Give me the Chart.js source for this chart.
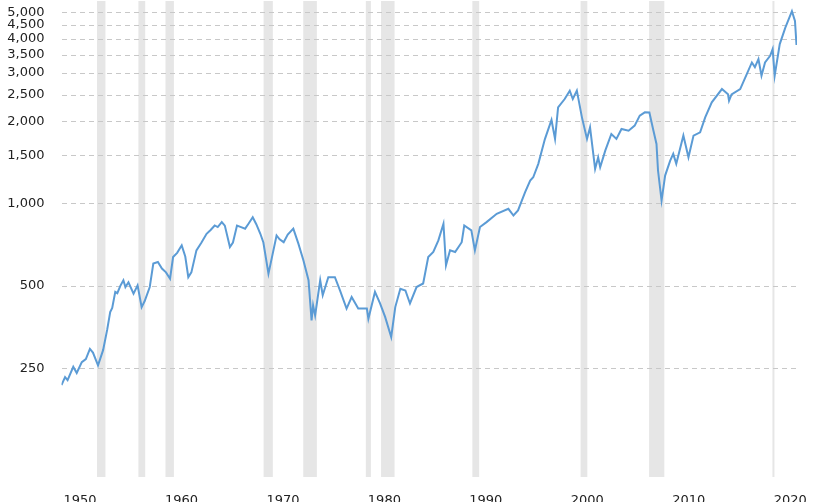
<!DOCTYPE html>
<html>
<head>
<meta charset="utf-8">
<script src="https://cdn.jsdelivr.net/npm/chart.js@4"></script>
<style>
  html, body { margin: 0; padding: 0; background: #fff; }
  #wrap { width: 815px; height: 502px; }
</style>
</head>
<body>
<div id="wrap"><canvas id="chart" width="815" height="502"></canvas></div>
<script>
// years (decimal) and index values
const years = [
    1950.0, 1950.35, 1950.6, 1951.16, 1951.5, 1952.0, 1952.4, 1952.8, 1953.1, 1953.6,
    1954.1, 1954.5, 1954.8, 1955.0, 1955.3, 1955.5, 1955.8, 1956.1, 1956.3, 1956.6,
    1957.1, 1957.5, 1957.9, 1958.2, 1958.7, 1959.05, 1959.5, 1959.9, 1960.3, 1960.7,
    1961.0, 1961.4, 1961.85, 1962.2, 1962.5, 1962.8, 1963.3, 1963.8, 1964.3, 1964.7,
    1965.1, 1965.4, 1965.8, 1966.1, 1966.6, 1966.9, 1967.3, 1967.7, 1968.1, 1968.4,
    1968.85, 1969.2, 1969.6, 1969.9, 1970.4, 1970.8, 1971.2, 1971.5, 1971.9, 1972.3,
    1972.85, 1973.35, 1973.85, 1974.35, 1974.65, 1974.8, 1975.0, 1975.5, 1975.75, 1976.3,
    1976.95, 1977.45, 1978.1, 1978.6, 1979.25, 1980.1, 1980.25, 1980.9, 1981.4, 1981.9,
    1982.5, 1982.9, 1983.4, 1983.9, 1984.35, 1985.0, 1985.65, 1986.15, 1986.65, 1987.15,
    1987.65, 1987.9, 1988.3, 1988.8, 1989.45, 1989.7, 1990.4, 1990.75, 1991.25, 1991.9,
    1992.9, 1994.05, 1994.55, 1995.0, 1995.7, 1996.2, 1996.5, 1997.0, 1997.65, 1998.3,
    1998.65, 1998.95, 1999.6, 2000.1, 2000.4, 2000.8, 2001.3, 2001.8, 2002.1, 2002.6,
    2002.9, 2003.1, 2003.6, 2004.2, 2004.7, 2005.2, 2005.9, 2006.5, 2007.0, 2007.5,
    2007.95, 2008.35, 2008.65, 2008.8, 2009.15, 2009.5, 2010.0, 2010.3, 2010.6, 2011.3,
    2011.8, 2012.3, 2012.95, 2013.45, 2014.1, 2015.1, 2015.7, 2015.8, 2016.05, 2016.9,
    2017.55, 2018.05, 2018.35, 2018.7, 2019.0, 2019.35, 2019.85, 2020.1, 2020.3, 2020.8,
    2021.35, 2022.0, 2022.3, 2022.45, 2022.5
];
const values = [
    217, 232, 226, 253, 240, 263, 270, 294, 285, 256,
    291, 345, 401, 415, 475, 470, 500, 524, 495, 515,
    468, 502, 418, 440, 495, 603, 611, 578, 560, 531,
    637, 660, 703, 640, 538, 560, 674, 720, 775, 800,
    831, 820, 855, 830, 693, 720, 831, 820, 809, 840,
    891, 840, 775, 720, 554, 650, 764, 740, 722, 770,
    809, 713, 619, 524, 374, 424, 390, 524, 462, 538,
    538, 481, 413, 455, 413, 413, 379, 475, 431, 385,
    325, 418, 488, 481, 431, 495, 510, 637, 665, 733,
    843, 594, 674, 665, 722, 831, 797, 674, 820, 855,
    917, 956, 904, 943, 1100, 1213, 1247, 1396, 1720, 2020,
    1722, 2246, 2410, 2585, 2410, 2585, 2065, 1722, 1898, 1338,
    1475, 1357, 1561, 1796, 1722, 1873, 1846, 1926, 2095, 2154,
    2150, 1846, 1651, 1320, 1025, 1265, 1435, 1518, 1396, 1771,
    1475, 1771, 1820, 2065, 2343, 2621, 2507, 2375, 2507, 2621,
    2973, 3278, 3152, 3373, 2932, 3278, 3468, 3669, 2932, 3826,
    4398, 5050, 4654, 3800, 4000
];

// recessions (start / end, decimal years)
const recStart = [1953.5, 1957.58, 1960.25, 1969.92, 1973.83, 1980.0, 1981.5, 1990.5, 2001.17, 2007.92, 2020.08];
const recEnd   = [1954.33, 1958.25, 1961.08, 1970.83, 1975.17, 1980.5, 1982.83, 1991.17, 2001.83, 2009.42, 2020.25];

const xTicks = [1950, 1960, 1970, 1980, 1990, 2000, 2010, 2020];
const yTicks = [250, 500, 1000, 1500, 2000, 2500, 3000, 3500, 4000, 4500, 5000];

const fontFamily = '"DejaVu Sans", Verdana, sans-serif';

// grey recession bands + dashed horizontal grid, painted under the line
const backdrop = {
    id: 'backdrop',
    beforeDatasetsDraw(chart) {
        const ctx = chart.ctx;
        const area = chart.chartArea;
        const xs = chart.scales.x;
        const ys = chart.scales.y;
        ctx.save();
        ctx.fillStyle = '#e6e6e6';
        for (let i = 0; i < recStart.length; i++) {
            let x0 = xs.getPixelForValue(recStart[i]);
            let x1 = xs.getPixelForValue(recEnd[i]);
            ctx.fillRect(x0, area.top, Math.max(x1 - x0, 2), area.bottom - area.top);
        }
        // dashes drawn as short rects (5 on, 4 off)
        ctx.fillStyle = '#c8c8c8';
        for (const v of yTicks) {
            let y = Math.round(ys.getPixelForValue(v));
            for (let x = area.left; x < area.right; x += 9) {
                ctx.fillRect(Math.round(x), y, Math.min(5, area.right - x), 1);
            }
        }
        ctx.restore();
    }
};

new Chart(document.getElementById('chart'), {
    type: 'line',
    data: {
        datasets: [{
            data: years.map((y, i) => ({x: y, y: values[i]})),
            borderColor: '#5b9bd5',
            borderWidth: 2,
            pointRadius: 0,
            tension: 0,
            fill: false,
        }]
    },
    options: {
        responsive: false,
        animation: false,
        layout: {
            padding: {left: 0, right: 18, top: 1, bottom: 0}
        },
        plugins: {
            legend: {display: false},
            tooltip: {enabled: false}
        },
        scales: {
            x: {
                type: 'linear',
                min: 1950,
                max: 2022.5,
                afterBuildTicks: (scale) => {
                    scale.ticks = xTicks.map(v => ({value: v}));
                },
                afterFit: (scale) => {
                    scale.height = 25;
                    scale.paddingLeft = 0;
                    scale.paddingRight = 0;
                },
                grid: {display: false},
                border: {display: false},
                ticks: {
                    autoSkip: false,
                    maxRotation: 0,
                    align: 'start',
                    labelOffset: 2,
                    padding: 8,
                    color: '#222',
                    font: {family: fontFamily, size: 13},
                    callback: (v) => String(v),
                }
            },
            y: {
                type: 'logarithmic',
                min: 100,
                max: 5500,
                afterBuildTicks: (scale) => {
                    scale.ticks = yTicks.map(v => ({value: v}));
                },
                afterFit: (scale) => {
                    scale.width = 61.5;
                    scale.paddingTop = 0;
                    scale.paddingBottom = 0;
                },
                grid: {display: false},
                border: {display: false},
                ticks: {
                    padding: 9,
                    color: '#222',
                    font: {family: fontFamily, size: 13},
                    callback: (v) => v.toLocaleString('en-US'),
                }
            }
        }
    },
    plugins: [backdrop]
});
</script>
</body>
</html>
